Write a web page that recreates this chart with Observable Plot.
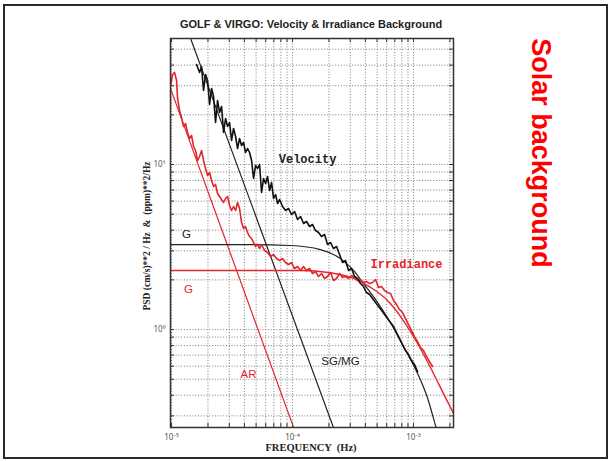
<!DOCTYPE html>
<html>
<head>
<meta charset="utf-8">
<script src="https://cdn.jsdelivr.net/npm/d3@7"></script>
<script src="https://cdn.jsdelivr.net/npm/@observablehq/plot@0.6"></script>
<style>
  html, body { margin: 0; padding: 0; background: #fff; }
  #wrap { position: relative; width: 610px; height: 461px; overflow: hidden; background: #fff; }
  #border { position: absolute; left: 3px; top: 4px; width: 601px; height: 451px; border: 2px solid #2a2a2a; box-sizing: content-box; pointer-events: none; }
  .ov { position: absolute; white-space: nowrap; transform-origin: center center; }
  #title { left: 311px; top: 24px; transform: translate(-50%, -50%); font: bold 11px "Liberation Sans", Arial, sans-serif; color: #222; }
  #ylab { left: 147px; top: 236px; transform: translate(-50%, -50%) rotate(-90deg); font: bold 9.5px "Liberation Serif", "Times New Roman", serif; color: #222; }
  #xlab { left: 311px; top: 447px; transform: translate(-50%, -50%); font: bold 10.5px "Liberation Serif", "Times New Roman", serif; color: #222; }
  #solar { left: 540px; top: 153px; transform: translate(-50%, -50%) rotate(90deg); font: bold 27px "Liberation Sans", Arial, sans-serif; color: #ff0000; }
  #chart { position: absolute; left: 0; top: 0; }
</style>
</head>
<body>
<div id="wrap">
  <div id="chart"></div>
  <div id="border"></div>
  <div class="ov" id="title">GOLF &amp; VIRGO: Velocity &amp; Irradiance Background</div>
  <div class="ov" id="ylab">PSD (cm/s)**2 / Hz &nbsp;&amp;&nbsp; (ppm)**2/Hz</div>
  <div class="ov" id="xlab">FREQUENCY &nbsp;(Hz)</div>
  <div class="ov" id="solar">Solar background</div>
</div>
<script>
// ---------- DATA (frequencies in microHz, PSD in (cm/s)^2/Hz or ppm^2/Hz) ----------
const velocityFreq = [16.09,17.04,17.70,18.38,19.10,19.84,20.61,21.41,22.24,23.10,24.00,24.93,25.90,26.90,27.95,29.03,30.16,31.33,32.54,33.81,35.12,36.48,37.89,39.36,40.89,42.48,44.13,45.84,47.62,49.47,51.38,53.38,55.45,57.60,59.84,62.16,64.57,67.07,69.67,72.38,75.19,78.11,82.70,87.52,92.67,98.10,103.9,110.0,116.5,123.3,130.5,138.2,146.3,155.0,164.0,173.6,183.9,194.7,206.1,218.2,231.0,244.6,259.0,274.2,290.3,307.4,325.4,344.5,364.8,386.2,408.9,433.0,458.4,485.3,513.8,544.0,576.0,609.8,645.7,683.6,723.8,766.3,811.3,859.0,909.4,962.8,1019,1079];
const velocityPSD = [40.37,36.11,39.26,28.09,35.12,32.29,23.10,28.88,25.83,17.97,24.43,20.66,22.46,15.63,19.00,17.00,17.97,13.98,16.53,14.78,12.50,14.38,13.04,13.60,11.82,12.50,11.82,10.57,8.228,9.86,9.458,10.0,6.766,8.228,7.670,8.457,6.957,7.779,6.222,6.579,5.801,6.136,5.566,5.263,5.412,4.977,5.190,4.642,4.840,4.389,4.513,4.210,4.329,3.981,3.871,3.661,3.765,3.275,3.368,3.097,3.184,2.848,2.547,2.619,2.279,2.343,2.096,2.038,1.900,1.822,1.676,1.630,1.541,1.458,1.380,1.310,1.233,1.166,1.103,1.043,0.959,0.882,0.811,0.746,0.706,0.649,0.614,0.556];

const irradianceFreq = [9.812,10.19,10.59,11.00,11.21,11.64,12.09,12.56,13.05,13.56,14.09,14.63,15.20,15.79,16.40,17.04,17.70,18.38,19.10,19.84,20.61,21.41,22.24,23.10,24.00,24.93,25.90,26.90,27.95,29.03,30.16,31.33,32.54,33.81,35.12,36.48,37.89,39.36,40.89,42.48,44.13,45.84,47.62,49.47,51.38,53.38,55.45,58.71,62.16,65.81,69.67,73.77,78.11,82.70,87.52,92.67,98.10,103.9,110.0,116.5,123.3,130.5,138.2,146.3,155.0,164.0,173.6,183.9,194.7,206.1,218.2,231.0,244.6,259.0,274.2,290.3,307.4,325.4,344.5,364.8,386.2,408.9,433.0,458.4,485.3,513.8,544.0,576.0,609.8,645.7,683.6,723.8,766.3,811.3,859.0,909.4,962.8,1019,1079,1143,1209,1281,1356,1435];
const irradiancePSD = [29.70,35.12,36.11,32.29,25.12,21.25,19.27,17.00,17.72,15.63,14.38,14.99,12.86,12.16,10.57,11.18,12.16,10.57,9.458,8.577,8.944,8.000,7.356,7.564,6.672,6.399,6.136,5.885,6.222,6.399,5.644,5.263,5.566,5.263,5.885,5.412,4.451,4.094,4.210,3.871,3.661,3.561,3.368,3.184,3.275,3.097,3.275,3.011,2.929,2.770,2.848,2.694,2.619,2.694,2.547,2.477,2.547,2.343,2.409,2.279,2.409,2.279,2.343,2.185,2.246,2.096,2.185,2.038,2.096,2.215,1.982,2.038,2.185,2.067,2.096,2.038,2.125,2.067,1.982,2.009,1.927,1.954,1.900,1.927,2.009,1.797,1.822,1.723,1.676,1.653,1.499,1.417,1.322,1.268,1.166,1.072,0.986,0.907,0.846,0.778,0.746,0.686,0.640,0.597];

// model components
const velGranFreq = [9.8,45,96,170,249,319,386,504,645,826,1080,1310,1520,1610];
const velGranPSD  = [3.27,3.27,3.23,3.05,2.69,2.28,1.90,1.46,1.10,0.789,0.541,0.382,0.262,0.228];
const velSGFreq = [13.0,240];
const velSGPSD  = [70.8,0.21];
const irrGranFreq = [9.8,116,206,319,442,610,826,1080,1380,1770,2140,2270];
const irrGranPSD  = [2.28,2.28,2.21,2.04,1.80,1.50,1.13,0.823,0.589,0.409,0.310,0.285];
const irrARFreq = [9.8,110];
const irrARPSD  = [28.9,0.219];

// annotations
const noteText  = ["Velocity","Irradiance","G","G","AR","SG/MG"];
const noteFreq  = [133,875,13.3,13.8,43.3,249];
const notePSD   = [10.7,2.48,3.77,1.75,0.533,0.64];
const noteColor = ["#222","#e3262b","#222","#e3262b","#e3262b","#222"];
const noteKind  = ["mono","mono","sans","sans","sans","sans"];

// ticks
const xMajorTicks = [1e-5,1e-4,1e-3];
const yMajorTicks = [1,10];
const xGridTicks = [1e-5,2e-5,3e-5,4e-5,5e-5,6e-5,7e-5,8e-5,9e-5,1e-4,2e-4,3e-4,4e-4,5e-4,6e-4,7e-4,8e-4,9e-4,1e-3,2e-3];
const yGridTicks = [0.3,0.4,0.5,0.6,0.7,0.8,0.9,1,2,3,4,5,6,7,8,9,10,20,30,40,50];

// ---------- BUILD ----------
const uHz = 1e-6;
const pts = (fs, ps) => fs.map((f, i) => ({f: f * uHz, p: ps[i]}));
const velocity = pts(velocityFreq, velocityPSD);
const irradiance = pts(irradianceFreq, irradiancePSD);
const velGran = pts(velGranFreq, velGranPSD);
const velSG = pts(velSGFreq, velSGPSD);
const irrGran = pts(irrGranFreq, irrGranPSD);
const irrAR = pts(irrARFreq, irrARPSD);
const notes = noteText.map((t, i) => ({t, f: noteFreq[i] * uHz, p: notePSD[i], c: noteColor[i], kind: noteKind[i]}));

const supMap = {"-":"\u207B","0":"\u2070","1":"\u00B9","2":"\u00B2","3":"\u00B3","4":"\u2074","5":"\u2075","6":"\u2076","7":"\u2077","8":"\u2078","9":"\u2079"};
const powFmt = d => "10" + String(Math.round(Math.log10(d))).split("").map(c => supMap[c]).join("");

const RED = "#e3262b";
const W = 610, H = 461, ML = 170, MR = 157, MT = 38, MB = 34;
const innerW = W - ML - MR, innerH = H - MT - MB;

const chart = Plot.plot({
  width: W, height: H,
  marginLeft: ML, marginRight: MR, marginTop: MT, marginBottom: MB,
  style: {background: "transparent", overflow: "visible"},
  x: {type: "log", domain: [9.8e-6, 2.14e-3]},
  y: {type: "log", domain: [0.255, 58]},
  marks: [
    Plot.gridX({ticks: xGridTicks, stroke: "#6f6f6f", strokeOpacity: 1, strokeWidth: 0.9, strokeDasharray: "1,1.8"}),
    Plot.gridY({ticks: yGridTicks, stroke: "#6f6f6f", strokeOpacity: 1, strokeWidth: 0.9, strokeDasharray: "1,1.8"}),
    // inner MATLAB-style ticks
    Plot.tickX(xGridTicks, {x: d => d, insetTop: innerH - 4, stroke: "#333"}),
    Plot.tickX(xGridTicks, {x: d => d, insetBottom: innerH - 4, stroke: "#333"}),
    Plot.tickY(yGridTicks, {y: d => d, insetRight: innerW - 4, stroke: "#333"}),
    Plot.tickY(yGridTicks, {y: d => d, insetLeft: innerW - 4, stroke: "#333"}),
    Plot.axisX({ticks: xMajorTicks, tickFormat: powFmt, tickSize: 0, tickPadding: 7, fontSize: 8, fill: "#555", label: null}),
    Plot.axisY({ticks: yMajorTicks, tickFormat: powFmt, tickSize: 0, tickPadding: 5, fontSize: 8, fill: "#555", label: null}),
    // model components
    Plot.line(velSG, {x: "f", y: "p", stroke: "#222", strokeWidth: 1.2, clip: true}),
    Plot.line(irrAR, {x: "f", y: "p", stroke: RED, strokeWidth: 1.2, clip: true}),
    Plot.line(velGran, {x: "f", y: "p", stroke: "#222", strokeWidth: 1.2, curve: "monotone-x", clip: true}),
    Plot.line(irrGran, {x: "f", y: "p", stroke: RED, strokeWidth: 1.4, curve: "monotone-x", clip: true}),
    // observed spectra
    Plot.line(irradiance, {x: "f", y: "p", stroke: RED, strokeWidth: 1.6, clip: true}),
    Plot.line(velocity, {x: "f", y: "p", stroke: "#111", strokeWidth: 1.6, clip: true}),
    // annotations
    Plot.text(notes.filter(d => d.kind === "mono"), {x: "f", y: "p", text: "t", fill: "c", fontFamily: "Liberation Mono, Courier New, monospace", fontWeight: "bold", fontSize: 12, textAnchor: "middle"}),
    Plot.text(notes.filter(d => d.kind === "sans"), {x: "f", y: "p", text: "t", fill: "c", fontFamily: "Liberation Sans, Arial, sans-serif", fontSize: 11.5, textAnchor: "middle"}),
    Plot.frame({stroke: "#333", strokeWidth: 1.5})
  ]
});
document.getElementById("chart").appendChild(chart);
</script>
</body>
</html>
